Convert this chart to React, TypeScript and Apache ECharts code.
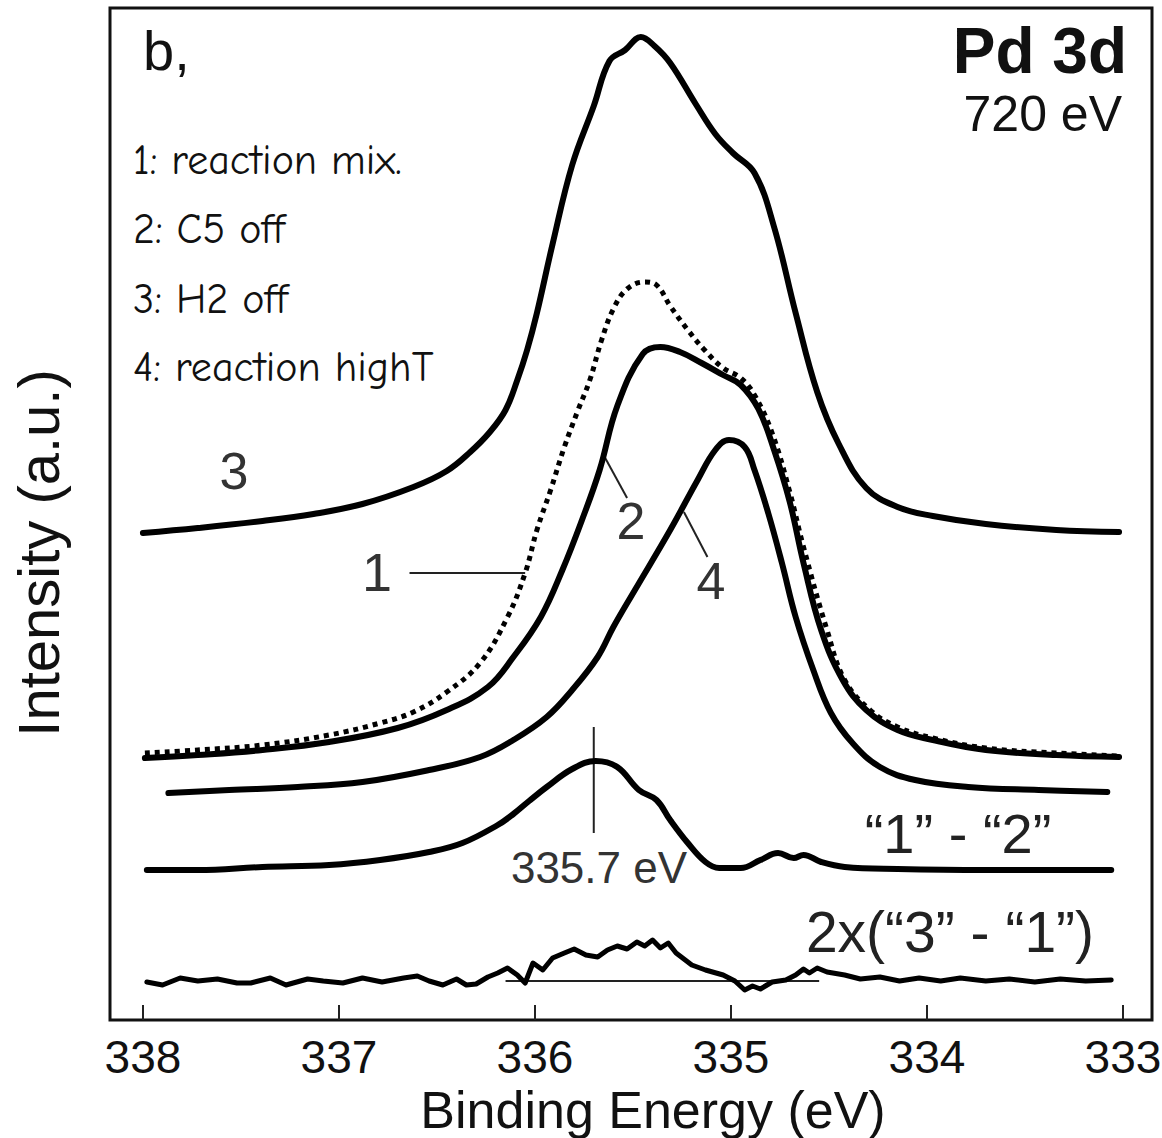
import React, { useEffect, useRef } from "react";
import * as echarts from "echarts";

// Binding energy (eV) / intensity (a.u.) pairs
const tickValues = [338, 337, 336, 335, 334, 333];

const curve3: number[][] = [
  [338.0, 48.7], [337.72, 49.2], [337.39, 49.9], [337.13, 50.6], [336.88, 51.6], [336.62, 53.3],
  [336.45, 54.9], [336.33, 56.8], [336.23, 58.8], [336.15, 61.0], [336.09, 64.0], [336.04, 67.0],
  [335.99, 70.7], [335.91, 77.6],
  [335.81, 85.5], [335.7, 91.4], [335.62, 95.9], [335.54, 97.0], [335.46, 98.3], [335.39, 97.4],
  [335.31, 95.7], [335.18, 91.6], [335.08, 88.6], [334.99, 86.7], [334.88, 84.7], [334.78, 79.3],
  [334.67, 70.7], [334.56, 62.8], [334.45, 57.6], [334.31, 53.2], [334.15, 51.3], [333.97, 50.4],
  [333.7, 49.6], [333.34, 49.0], [333.02, 48.8],
];

const curve1: number[][] = [
  [337.99, 26.7], [337.72, 27.0], [337.39, 27.5], [337.05, 28.5], [336.79, 29.7], [336.62, 30.8],
  [336.45, 32.8], [336.28, 35.7], [336.14, 40.3], [336.05, 44.7], [335.99, 49.0], [335.92, 53.0],
  [335.85, 57.3], [335.78, 61.0], [335.72, 64.0], [335.66, 68.0], [335.6, 71.1], [335.53, 73.1],
  [335.44, 73.8], [335.38, 73.5], [335.31, 71.4], [335.22, 69.0], [335.13, 66.9], [335.04, 65.2],
  [334.95, 64.2], [334.88, 62.5], [334.79, 58.7], [334.7, 52.8], [334.63, 47.3], [334.51, 39.0],
  [334.42, 34.0], [334.29, 31.0], [334.15, 29.3], [333.97, 28.2], [333.7, 27.2], [333.34, 26.7],
  [333.02, 26.4],
];

const curve2: number[][] = [
  [337.99, 26.2], [337.72, 26.5], [337.39, 27.0], [337.05, 27.8], [336.7, 29.2], [336.45, 31.0],
  [336.24, 33.3], [336.11, 36.3], [335.97, 40.3], [335.86, 45.0], [335.76, 50.0], [335.67, 55.0],
  [335.58, 61.4], [335.45, 66.6], [335.36, 67.3], [335.26, 66.8], [335.15, 65.7], [335.04, 64.5],
  [334.95, 63.5], [334.86, 61.1], [334.78, 57.0], [334.7, 51.8], [334.63, 45.7], [334.54, 39.0],
  [334.43, 34.0], [334.31, 31.0], [334.15, 29.0], [333.97, 28.0], [333.7, 27.0], [333.34, 26.5],
  [333.02, 26.3],
];

const curve4: number[][] = [
  [337.87, 22.7], [337.56, 23.0], [337.21, 23.3], [336.88, 23.8], [336.54, 25.0], [336.28, 26.3],
  [336.11, 28.0], [335.94, 30.3], [335.81, 33.0], [335.68, 36.3], [335.6, 39.3], [335.49, 43.0],
  [335.31, 49.0], [335.17, 54.0], [335.08, 57.0], [335.01, 58.0], [334.93, 57.3], [334.88, 55.0],
  [334.81, 50.7], [334.74, 45.7], [334.67, 40.3], [334.58, 35.0], [334.49, 30.7], [334.38, 27.7],
  [334.24, 25.3], [334.06, 24.0], [333.79, 23.3], [333.43, 23.0], [333.08, 22.8],
];

const diff12: number[][] = [
  [337.98, 15.0], [337.72, 15.0], [337.39, 15.3], [337.05, 15.5], [336.79, 16.0], [336.54, 16.8],
  [336.37, 17.7], [336.19, 19.5], [336.11, 20.6], [336.03, 21.9], [335.94, 23.3], [335.81, 25.1],
  [335.69, 25.9], [335.58, 25.3], [335.47, 23.0], [335.38, 22.0], [335.31, 20.0], [335.22, 17.7],
  [335.13, 15.8], [335.06, 15.2], [334.95, 15.2], [334.85, 16.0], [334.76, 16.7], [334.68, 16.2],
  [334.63, 16.5], [334.54, 15.8], [334.42, 15.3], [334.15, 15.1], [333.7, 15.0], [333.06, 15.0],
];

const diff31: number[][] = [
  [337.98, 3.8], [337.9, 3.5], [337.81, 4.2], [337.72, 3.9], [337.62, 4.1], [337.52, 3.7],
  [337.45, 3.7], [337.35, 4.2], [337.27, 3.5], [337.16, 4.1], [337.08, 3.9], [336.98, 3.7],
  [336.88, 4.2], [336.78, 3.8], [336.67, 4.2], [336.6, 4.4], [336.54, 3.9], [336.47, 3.5],
  [336.4, 4.1], [336.35, 3.5], [336.3, 3.6], [336.24, 4.3], [336.19, 4.7], [336.14, 5.2],
  [336.09, 4.5], [336.05, 3.7], [336.01, 5.7], [335.96, 5.0], [335.91, 6.2], [335.85, 6.7],
  [335.8, 7.1], [335.74, 6.5], [335.68, 6.3], [335.63, 7.0], [335.58, 7.4], [335.53, 7.1],
  [335.48, 7.8], [335.44, 7.4], [335.4, 8.0], [335.36, 7.2], [335.32, 7.7], [335.28, 6.7],
  [335.2, 5.5], [335.13, 5.0], [335.04, 4.5], [334.98, 3.9], [334.93, 3.0], [334.89, 3.4],
  [334.85, 3.1], [334.79, 3.8], [334.72, 4.0], [334.67, 4.5], [334.63, 5.1], [334.6, 4.7],
  [334.56, 5.2], [334.51, 4.8], [334.42, 4.5], [334.34, 4.1], [334.24, 4.3], [334.14, 3.9],
  [334.04, 4.2], [333.93, 3.9], [333.83, 4.2], [333.7, 3.9], [333.58, 4.1], [333.45, 3.8],
  [333.32, 4.1], [333.19, 3.9], [333.06, 4.0],
];

const zeroLine: number[][] = [[336.15, 3.9], [334.55, 3.9]];
const peakMarker: number[][] = [[335.7, 29.3], [335.7, 18.7]];
const leader1: number[][] = [[336.64, 44.7], [336.05, 44.7]];
const leader2: number[][] = [[335.65, 56.5], [335.53, 52.2]];
const leader4: number[][] = [[335.24, 50.8], [335.12, 46.3]];

const legendLines = ["1: reaction mix.", "2: C5 off", "3: H2 off", "4: reaction highT"];

const ARIAL = "'Liberation Sans', Arial, Helvetica, sans-serif";
const COMIC = "'Comic Sans MS', 'Comic Neue', 'DejaVu Sans', sans-serif";

export default function App() {
  const ref = useRef<HTMLDivElement>(null);

  useEffect(() => {
    document.body.style.margin = "0";
    if (!ref.current) return;
    const chart = echarts.init(ref.current, undefined, { renderer: "svg" });

    const thick = (data: number[][], width = 6, extra: any = {}) => ({
      type: "line",
      data,
      showSymbol: false,
      symbol: "none",
      smooth: 0.4,
      lineStyle: { color: "#000", width, cap: "round", join: "round", ...extra },
      silent: true,
      z: 3,
    });
    const thin = (data: number[][]) => ({
      type: "line",
      data,
      showSymbol: false,
      symbol: "none",
      lineStyle: { color: "#222", width: 2 },
      silent: true,
      z: 2,
    });

    const text = (t: string, x: number, y: number, size: number, align: string, opts: any = {}) => ({
      type: "text",
      x,
      y,
      silent: true,
      z: 10,
      rotation: opts.rotation || 0,
      style: {
        text: t,
        fontSize: size,
        lineHeight: opts.lineHeight || size,
        fontFamily: opts.family || ARIAL,
        fontWeight: opts.weight || "normal",
        fill: opts.color || "#111",
        textAlign: align,
        textVerticalAlign: "middle",
      },
    });

    const legendY = [160, 229, 299, 367];

    chart.setOption({
      animation: false,
      backgroundColor: "#fff",
      grid: {
        left: 110,
        right: 10,
        top: 8,
        bottom: 118,
        containLabel: false,
        outerBoundsMode: "none",
        show: true,
        borderColor: "#111",
        borderWidth: 3,
        backgroundColor: "transparent",
      },
      xAxis: {
        type: "value",
        inverse: true,
        min: 332.852,
        max: 338.168,
        axisLine: { show: false },
        splitLine: { show: false },
        axisTick: {
          show: true,
          inside: true,
          length: 15,
          customValues: tickValues,
          lineStyle: { color: "#222", width: 2 },
        },
        axisLabel: {
          show: true,
          customValues: tickValues,
          fontSize: 46,
          fontFamily: ARIAL,
          color: "#111",
          margin: 14,
          formatter: (v: number) => String(Math.round(v)),
        },
      },
      yAxis: {
        type: "value",
        min: 0,
        max: 101.2,
        axisLine: { show: false },
        axisTick: { show: false },
        axisLabel: { show: false },
        splitLine: { show: false },
      },
      series: [
        thin(zeroLine),
        thin(peakMarker),
        thin(leader1),
        thin(leader2),
        thin(leader4),
        thick(curve1, 5, { type: [5, 5], cap: "butt" }),
        thick(curve3),
        thick(curve2),
        thick(curve4),
        thick(diff12),
        { ...thick(diff31, 5), smooth: false },
      ],
      graphic: [
        text("b,", 143, 50, 56, "left"),
        text("Pd 3d", 1127, 51, 64, "right", { weight: "bold" }),
        text("720 eV", 1122, 114, 50, "right"),
        ...legendLines.map((t, i) => text(t, 133, legendY[i], 42, "left", { family: COMIC })),
        text("3", 234, 471, 52, "center", { color: "#333" }),
        text("1", 377, 572, 54, "center", { color: "#333" }),
        text("2", 631, 521, 52, "center", { color: "#333" }),
        text("4", 711, 581, 52, "center", { color: "#333" }),
        text("335.7 eV", 599, 867, 44, "center", { color: "#333" }),
        text("\u201C1\u201D - \u201C2\u201D", 958, 833, 56, "center", { color: "#222" }),
        text("2x(\u201C3\u201D - \u201C1\u201D)", 950, 932, 57, "center", { color: "#222" }),
        text("Binding Energy (eV)", 653, 1110, 52, "center"),
        text("Intensity (a.u.)", 38, 553, 58, "center", { rotation: Math.PI / 2 }),
      ],
    });

    return () => chart.dispose();
  }, []);

  return <div ref={ref} style={{ width: 1162, height: 1138 }} />;
}
